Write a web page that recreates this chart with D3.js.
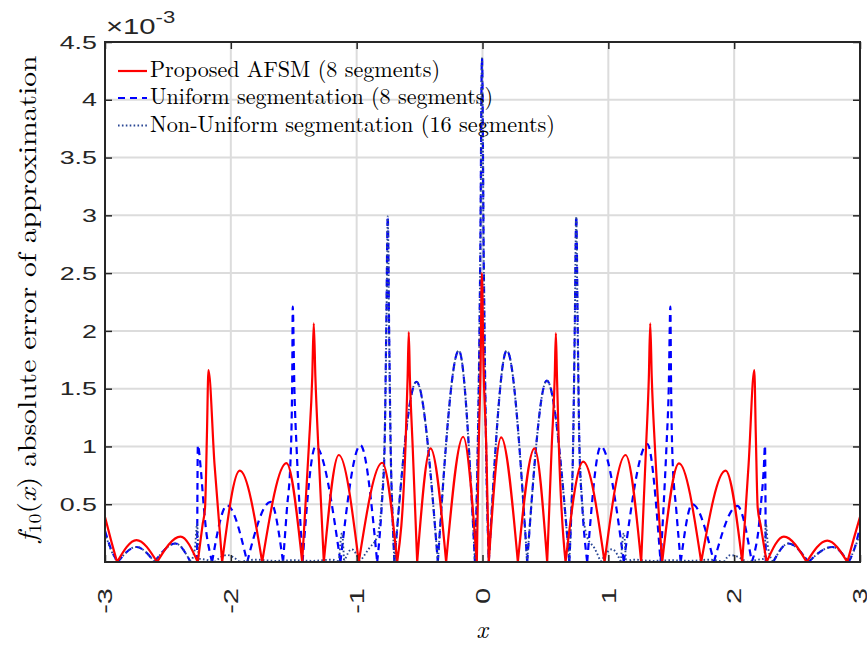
<!DOCTYPE html>
<html><head><meta charset="utf-8">
<script src="https://cdn.jsdelivr.net/npm/d3@7"></script>
<style>
html,body{margin:0;padding:0;background:#fff;}
svg{display:block;}
</style></head>
<body>
<svg id="chart" width="867" height="648"></svg>
<script>
// ---------------- data (x, error ×1e-3) ----------------
const xTicks = [-3, -2, -1, 0, 1, 2, 3];
const yTicks = [0.5, 1, 1.5, 2, 2.5, 3, 3.5, 4, 4.5];
const seriesNames = ["Proposed AFSM (8 segments)", "Uniform segmentation (8 segments)", "Non-Uniform segmentation (16 segments)"];

const proposedAFSM = [
  [-3.0,0.39],[-2.955,0.2],[-2.904,0],[-2.75,0.19],[-2.586,0],[-2.40,0.22],[-2.263,0],
  [-2.225,0.32],[-2.205,0.47],[-2.19,1.1],[-2.178,1.66],[-2.13,0.85],[-2.069,0],
  [-1.929,0.79],[-1.751,0],[-1.558,0.855],[-1.433,0],
  [-1.38,1.0],[-1.353,1.6],[-1.341,2.065],[-1.328,1.6],[-1.305,1.0],[-1.261,0],
  [-1.142,0.926],[-0.983,0],[-0.797,0.859],[-0.678,0],
  [-0.612,1.0],[-0.595,1.6],[-0.586,1.99],[-0.577,1.6],[-0.555,1.0],[-0.519,0],
  [-0.413,0.983],[-0.289,0],[-0.154,1.084],[-0.045,0],
  [-0.03,1.0],[-0.015,1.7],[-0.005,2.5],[0.008,1.7],[0.03,1.0],[0.05,0],
  [0.148,1.078],[0.281,0],[0.413,0.983],[0.514,0],
  [0.55,1.0],[0.574,1.6],[0.583,1.98],[0.592,1.6],[0.607,1.0],[0.660,0],
  [0.80,0.868],[0.970,0],[1.137,0.926],[1.261,0],
  [1.30,1.0],[1.322,1.6],[1.333,2.065],[1.345,1.6],[1.37,1.0],[1.428,0],
  [1.561,0.854],[1.738,0],[1.932,0.79],[2.064,0],
  [2.115,0.85],[2.160,1.66],[2.172,1.1],[2.187,0.47],[2.21,0.32],[2.258,0],
  [2.395,0.22],[2.576,0],[2.74,0.185],[2.899,0],[2.95,0.2],[3.0,0.39]
];

const uniformSeg = [
  [-3.0,0.27],[-2.955,0.12],[-2.90,0],[-2.75,0.13],[-2.607,0],[-2.44,0.16],[-2.32,0],[-2.268,0],
  [-2.262,1.01],[-2.24,0.82],[-2.215,0.48],[-2.194,0.25],[-2.17,0.1],[-2.149,0],
  [-2.03,0.49],[-1.87,0],[-1.685,0.52],[-1.585,0],
  [-1.555,0.45],[-1.525,0.9],[-1.512,1.6],[-1.508,2.21],[-1.495,1.5],[-1.478,1.0],[-1.455,0.5],[-1.43,0],
  [-1.327,1.0],[-1.129,0],[-0.97,1.01],[-0.837,0],
  [-0.80,0.5],[-0.778,1.0],[-0.765,2.0],[-0.753,2.99],[-0.742,2.0],[-0.73,1.0],[-0.715,0.4],[-0.70,0],
  [-0.525,1.56],[-0.355,0],[-0.188,1.83],[-0.06,0],
  [-0.045,0.6],[-0.03,1.5],[-0.018,2.6],[-0.004,4.36],[0.01,2.6],[0.022,1.5],[0.035,0.6],[0.05,0],
  [0.193,1.83],[0.355,0],[0.511,1.57],[0.69,0],
  [0.705,0.4],[0.72,1.0],[0.733,2.0],[0.745,2.99],[0.757,2.0],[0.77,1.0],[0.792,0.5],[0.832,0],
  [0.94,1.0],[1.123,0],[1.31,1.02],[1.415,0],
  [1.44,0.5],[1.462,1.0],[1.48,1.5],[1.493,2.21],[1.498,1.6],[1.51,0.9],[1.54,0.45],[1.575,0],
  [1.667,0.50],[1.839,0],[2.025,0.485],[2.14,0],
  [2.166,0.1],[2.19,0.25],[2.211,0.48],[2.236,0.82],[2.245,1.01],[2.251,0],
  [2.31,0],[2.43,0.16],[2.59,0],[2.78,0.13],[2.91,0],[2.96,0.13],[3.0,0.3]
];

const nonUniformSeg = [
  [-3.0,0.25],[-2.955,0.11],[-2.90,0],[-2.75,0.13],[-2.607,0],[-2.44,0.16],[-2.32,0],
  [-2.285,0.12],[-2.268,0.33],[-2.255,0.03],[-2.2,0.02],[-2.13,0],[-2.03,0.06],[-1.93,0],
  [-1.8,0.02],[-1.65,0.01],[-1.5,0.015],[-1.35,0.01],[-1.2,0.02],[-1.14,0],
  [-1.117,0.25],[-1.10,0],[-1.04,0.11],[-0.975,0],[-0.90,0.12],[-0.837,0.22],
  [-0.80,0.55],[-0.775,1.2],[-0.763,2.1],[-0.753,2.99],[-0.742,2.0],[-0.73,1.0],[-0.715,0.4],[-0.70,0],
  [-0.525,1.56],[-0.355,0],[-0.188,1.83],[-0.06,0],
  [-0.045,0.6],[-0.03,1.5],[-0.018,2.6],[-0.004,4.36],[0.01,2.6],[0.022,1.5],[0.035,0.6],[0.05,0],
  [0.193,1.83],[0.355,0],[0.511,1.57],[0.69,0],
  [0.705,0.4],[0.72,1.0],[0.733,2.0],[0.745,2.99],[0.755,2.1],[0.767,1.2],[0.79,0.55],[0.83,0.22],
  [0.89,0.12],[0.94,0],[1.03,0.11],[1.10,0],[1.123,0.25],[1.14,0],
  [1.2,0.02],[1.35,0.01],[1.5,0.015],[1.65,0.01],[1.8,0.02],[1.92,0],[1.97,0.06],[2.1,0],
  [2.19,0.02],[2.24,0.03],[2.252,0.33],[2.27,0.12],[2.31,0],
  [2.43,0.16],[2.59,0],[2.78,0.13],[2.91,0],[2.955,0.11],[3.0,0.25]
];

// ---------------- layout ----------------
const W = 867, H = 648;
const L = 105, R = 860, T = 42, B = 562;
const svg = d3.select("#chart");
const x = d3.scaleLinear().domain([-3, 3]).range([L, R]);
const y = d3.scaleLinear().domain([0, 4.5]).range([B, T]);

svg.append("rect").attr("width", W).attr("height", H).attr("fill", "#fff");

// grid
const grid = svg.append("g");
grid.selectAll("line.gx").data(xTicks.slice(1, -1)).join("line")
  .attr("x1", d => x(d)).attr("x2", d => x(d)).attr("y1", T).attr("y2", B)
  .attr("stroke", "#dcdcdc").attr("stroke-width", 2);
grid.selectAll("line.gy").data(yTicks).join("line")
  .attr("x1", L).attr("x2", R).attr("y1", d => y(d)).attr("y2", d => y(d))
  .attr("stroke", "#dcdcdc").attr("stroke-width", 2);

// clip
svg.append("defs").append("clipPath").attr("id", "clip")
  .append("rect").attr("x", L).attr("y", T - 2).attr("width", R - L).attr("height", B - T + 2);

function segmentsOf(data) {
  const segs = []; let cur = [data[0]];
  for (let i = 1; i < data.length; i++) {
    cur.push(data[i]);
    if (data[i][1] === 0 && i < data.length - 1) { segs.push(cur); cur = [data[i]]; }
  }
  if (cur.length > 1) segs.push(cur);
  return segs;
}
const line = d3.line().x(d => x(d[0])).y(d => y(d[1])).curve(d3.curveMonotoneX);
function pathOf(data) { return segmentsOf(data).map(s => line(s)).join(""); }

const plot = svg.append("g").attr("clip-path", "url(#clip)");
const styles = [
  { data: nonUniformSeg, color: "#2a4794", width: 1.9, dash: "1.6,2.3" },
  { data: uniformSeg, color: "#0000ff", width: 2.2, dash: "7,5" },
  { data: proposedAFSM, color: "#ff0000", width: 2.2, dash: null }
];
const draw = [styles[1], styles[0], styles[2]];
draw.forEach(s => {
  plot.append("path").attr("d", pathOf(s.data)).attr("fill", "none")
    .attr("stroke", s.color).attr("stroke-width", s.width)
    .attr("stroke-dasharray", s.dash).attr("stroke-linejoin", "round");
});

// axes box & ticks
const axisColor = "#262626";
const ax = svg.append("g");
const xb = d3.axisBottom(x).tickValues(xTicks).tickSize(-7).tickFormat("");
const xt = d3.axisTop(x).tickValues(xTicks).tickSize(-7).tickFormat("");
const yl = d3.axisLeft(y).tickValues(yTicks).tickSize(-7).tickFormat("");
const yr = d3.axisRight(y).tickValues(yTicks).tickSize(-7).tickFormat("");
[[xb, `translate(0,${B})`], [xt, `translate(0,${T})`], [yl, `translate(${L},0)`], [yr, `translate(${R},0)`]].forEach(([a, tr]) => {
  const g = ax.append("g").attr("transform", tr).call(a);
  g.select(".domain").remove();
  g.selectAll("line").attr("stroke", axisColor).attr("stroke-width", 1.5);
});
ax.append("rect").attr("x", L).attr("y", T).attr("width", R - L).attr("height", B - T)
  .attr("fill", "none").attr("stroke", axisColor).attr("stroke-width", 2);

// tick labels (reference glyphs are drawn wide: stretched along the text direction)
const tickFont = "'Liberation Sans', Arial, Helvetica, sans-serif";
const stretch = 1.45;
svg.append("g").selectAll("text").data(yTicks).join("text")
  .attr("transform", d => `translate(97,${y(d)}) scale(${stretch},1)`)
  .attr("dy", "0.36em")
  .attr("text-anchor", "end").attr("font-family", tickFont).attr("font-size", 18.5)
  .attr("fill", axisColor).text(d => d);
svg.append("g").selectAll("text").data(xTicks).join("text")
  .attr("transform", d => `translate(${x(d)},588) rotate(-90) scale(${stretch},1)`)
  .attr("dy", "0.36em").attr("text-anchor", "end")
  .attr("font-family", tickFont).attr("font-size", 20).attr("fill", axisColor)
  .text(d => d);

// exponent label
const ex = svg.append("text").attr("transform", "translate(106,34) scale(1.3,1)")
  .attr("font-family", tickFont).attr("font-size", 22.5).attr("fill", axisColor);
ex.append("tspan").text("×10");
ex.append("tspan").attr("dy", -11).attr("font-size", 17).text("-3");

// axis labels
const serif = "'Latin Modern Roman','CMU Serif','Liberation Serif','Times New Roman',serif";
svg.append("text").attr("x", 482).attr("y", 638).attr("text-anchor", "middle")
  .attr("font-family", serif).attr("font-style", "italic").attr("font-size", 25).text("x");

const ylab = svg.append("text").attr("transform", "translate(36,299) rotate(-90)")
  .attr("text-anchor", "middle").attr("font-family", serif).attr("font-size", 25.5).attr("fill", "#000");
ylab.append("tspan").attr("font-style", "italic").text("f");
ylab.append("tspan").attr("font-size", 17).attr("dy", 5).text("10");
ylab.append("tspan").attr("dy", -5).text("(");
ylab.append("tspan").attr("font-style", "italic").text("x");
ylab.append("tspan").text(") absolute error of approximation");
ylab.attr("textLength", 487).attr("lengthAdjust", "spacingAndGlyphs");

// legend
const legend = svg.append("g");
const legendRows = [
  { name: seriesNames[0], s: styles[2], yy: 71, len: 290 },
  { name: seriesNames[1], s: styles[1], yy: 98, len: 343 },
  { name: seriesNames[2], s: styles[0], yy: 125.5, len: 405 }
];
legendRows.forEach(r => {
  legend.append("line").attr("x1", 118).attr("x2", 147).attr("y1", r.yy).attr("y2", r.yy)
    .attr("stroke", r.s.color).attr("stroke-width", r.s.width).attr("stroke-dasharray", r.s.dash);
  legend.append("text").attr("x", 150).attr("y", r.yy + 6).attr("font-family", serif)
    .attr("font-size", 22.5).attr("textLength", r.len).attr("lengthAdjust", "spacingAndGlyphs")
    .attr("fill", "#000").text(r.name);
});
</script>
</body></html>
